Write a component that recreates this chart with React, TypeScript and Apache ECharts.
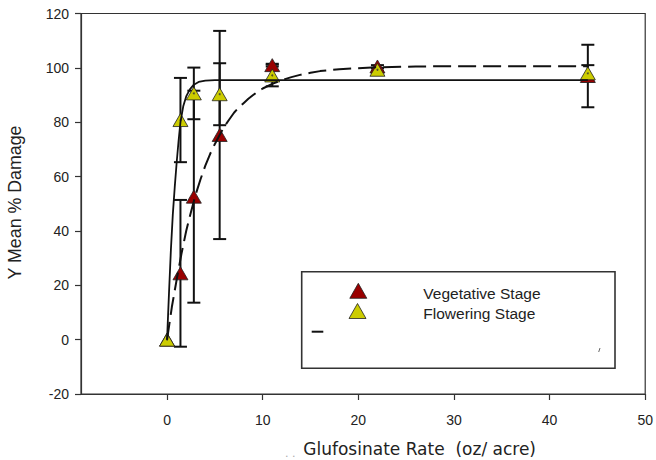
import React, { useEffect, useRef } from "react";
import * as echarts from "echarts";

// Glufosinate rates (oz/acre)
const rates = [0, 1.4, 2.8, 5.5, 11, 22, 44];
// Vegetative stage: mean % damage and error
const vegMean = [0, 24.4, 52.6, 75.3, 101, 100.5, 97];
const vegErr = [0, 27, 39, 38.3, 0.5, 0.5, 11.5];
// Flowering stage: mean % damage and error
const flowMean = [0, 80.8, 90.6, 90.3, 97.2, 99.3, 98];
const flowErr = [0, 15.5, 9.5, 11.4, 4, 0.5, 3];

// Fitted curves
const vegFitX = [0, 0.5, 1, 1.5, 2, 2.5, 3, 3.5, 4, 4.5, 5, 5.5, 6, 6.5, 7, 7.5, 8, 8.5, 9, 9.5, 10, 11, 12, 13, 14, 15, 16, 18, 20, 22, 26, 30, 44];
const vegFitY = [0, 12, 22, 31.5, 40, 47, 53.5, 59, 64, 68.3, 72, 75.3, 78.5, 81, 83.5, 85.4, 87, 88.6, 90, 91.3, 92.4, 94.1, 95.5, 96.6, 97.5, 98.2, 98.8, 99.5, 99.9, 100.2, 100.5, 100.6, 100.6];
const flowFitX = [0, 0.2, 0.4, 0.6, 0.8, 1.0, 1.2, 1.4, 1.7, 2.0, 2.4, 2.8, 3.3, 4, 5, 44];
const flowFitY = [0, 17, 33, 46, 56, 65, 73, 80, 86, 89.5, 92.2, 93.8, 94.8, 95.3, 95.5, 95.5];

const xTicks = [0, 10, 20, 30, 40, 50];

const RED = "#990000";
const YELLOW = "#CCCC00";

function errData(mean: number[], err: number[]) {
  return rates
    .map((r, i) => [r, mean[i] - err[i], mean[i] + err[i], err[i]])
    .filter((d) => d[3] > 0);
}

function renderErr(params: any, api: any) {
  const x = api.value(0);
  const top = api.coord([x, api.value(2)]);
  const bot = api.coord([x, api.value(1)]);
  const hw = 6.5;
  const st = { stroke: "#111", lineWidth: 2 };
  return {
    type: "group",
    children: [
      { type: "line", shape: { x1: top[0], y1: top[1], x2: bot[0], y2: bot[1] }, style: st },
      { type: "line", shape: { x1: top[0] - hw, y1: top[1], x2: top[0] + hw, y2: top[1] }, style: st },
      { type: "line", shape: { x1: bot[0] - hw, y1: bot[1], x2: bot[0] + hw, y2: bot[1] }, style: st },
    ],
  };
}

function tri(cx: number, cy: number, w: number, h: number) {
  return [
    [cx, cy - h / 2],
    [cx + w / 2, cy + h / 2],
    [cx - w / 2, cy + h / 2],
  ];
}

export default function App() {
  const ref = useRef<HTMLDivElement>(null);
  useEffect(() => {
    document.body.style.margin = "0";
    const chart = echarts.init(ref.current as HTMLDivElement, null, { renderer: "svg" });
    const axisColor = "#333";
    const option: any = {
      animation: false,
      backgroundColor: "#fff",
      grid: {
        left: 81,
        right: 8.3,
        top: 13.5,
        bottom: 66,
        show: true,
        borderColor: axisColor,
        borderWidth: 1.2,
      },
      xAxis: {
        type: "value",
        min: -9,
        max: 50,
        axisLine: { show: true, onZero: false, lineStyle: { color: axisColor, width: 1.2 } },
        axisTick: { show: true, inside: false, length: 6, customValues: xTicks, lineStyle: { color: axisColor, width: 1.2 } },
        axisLabel: { customValues: xTicks, margin: 19, fontSize: 14, color: "#222", fontFamily: "Liberation Sans, Arial, sans-serif", hideOverlap: false },
        splitLine: { show: false },
      },
      yAxis: {
        type: "value",
        min: -20,
        max: 120,
        interval: 20,
        axisLine: { show: true, onZero: false, lineStyle: { color: axisColor, width: 1.2 } },
        axisTick: { show: true, inside: false, length: 6, lineStyle: { color: axisColor, width: 1.2 } },
        axisLabel: { margin: 12, fontSize: 14, color: "#222", fontFamily: "Liberation Sans, Arial, sans-serif" },
        splitLine: { show: false },
      },
      series: [
        {
          name: "Vegetative fit",
          type: "line",
          data: vegFitX.map((x, i) => [x, vegFitY[i]]),
          showSymbol: false,
          smooth: false,
          lineStyle: { color: "#111", width: 2, type: [18, 7] },
          silent: true,
        },
        {
          name: "Flowering fit",
          type: "line",
          data: flowFitX.map((x, i) => [x, flowFitY[i]]),
          showSymbol: false,
          smooth: false,
          lineStyle: { color: "#111", width: 1.8 },
          silent: true,
        },
        {
          name: "Vegetative Stage",
          type: "scatter",
          data: rates.map((r, i) => [r, vegMean[i]]),
          symbol: "triangle",
          symbolSize: [15, 13],
          itemStyle: { color: RED, borderColor: "#222", borderWidth: 0.8, opacity: 1 },
        },
        {
          name: "Vegetative err",
          type: "custom",
          data: errData(vegMean, vegErr),
          renderItem: renderErr,
          silent: true,
        },
        {
          name: "Flowering err",
          type: "custom",
          data: errData(flowMean, flowErr),
          renderItem: renderErr,
          silent: true,
        },
        {
          name: "Flowering Stage",
          type: "scatter",
          data: rates.map((r, i) => [r, flowMean[i]]),
          symbol: "triangle",
          symbolSize: [15, 13],
          itemStyle: { color: YELLOW, borderColor: "#222", borderWidth: 0.8, opacity: 1 },
        },
        {
          name: "dots",
          type: "scatter",
          data: rates.map((r, i) => [r, flowMean[i]]),
          symbol: "circle",
          symbolSize: 2,
          itemStyle: { color: "#333" },
          silent: true,
        },
      ],
      graphic: [
        {
          type: "text",
          x: 14.5,
          y: 202.5,
          rotation: Math.PI / 2,
          style: {
            text: "Y Mean % Damage",
            fontSize: 17.8,
            fontFamily: "Liberation Sans, Arial, sans-serif",
            fill: "#222",
            align: "center",
            verticalAlign: "middle",
          },
        },
        {
          type: "text",
          x: 285,
          y: 453,
          style: { text: ". .", fontSize: 11, fill: "#aaa", fontFamily: "DejaVu Sans", verticalAlign: "middle" },
        },
        {
          type: "text",
          x: 303.3,
          y: 449,
          style: {
            text: "Glufosinate Rate  (oz/ acre)",
            fontSize: 17,
            fontFamily: "DejaVu Sans, sans-serif",
            fill: "#222",
            verticalAlign: "middle",
          },
        },
        {
          type: "rect",
          shape: { x: 301.7, y: 271.7, width: 313.3, height: 96.6 },
          style: { fill: "#fff", stroke: "#333", lineWidth: 1.6 },
        },
        {
          type: "polygon",
          shape: { points: tri(358.3, 290.8, 17, 15) },
          style: { fill: RED, stroke: "#222", lineWidth: 0.8 },
        },
        {
          type: "polygon",
          shape: { points: tri(357.5, 311, 17, 15) },
          style: { fill: YELLOW, stroke: "#222", lineWidth: 0.8 },
        },
        {
          type: "text",
          x: 423.3,
          y: 293.3,
          style: { text: "Vegetative Stage", fontSize: 15.5, fontFamily: "Liberation Sans, Arial, sans-serif", fill: "#222", verticalAlign: "middle" },
        },
        {
          type: "text",
          x: 423.3,
          y: 313.3,
          style: { text: "Flowering Stage", fontSize: 15.5, fontFamily: "Liberation Sans, Arial, sans-serif", fill: "#222", verticalAlign: "middle" },
        },
        {
          type: "line",
          shape: { x1: 311.7, y1: 331.7, x2: 323.3, y2: 331.7 },
          style: { stroke: "#111", lineWidth: 2 },
        },
        {
          type: "line",
          shape: { x1: 600, y1: 348, x2: 598.7, y2: 352 },
          style: { stroke: "#666", lineWidth: 1 },
        },
      ],
    };
    chart.setOption(option);
    return () => chart.dispose();
  }, []);
  return <div ref={ref} style={{ width: 656, height: 460 }} />;
}
